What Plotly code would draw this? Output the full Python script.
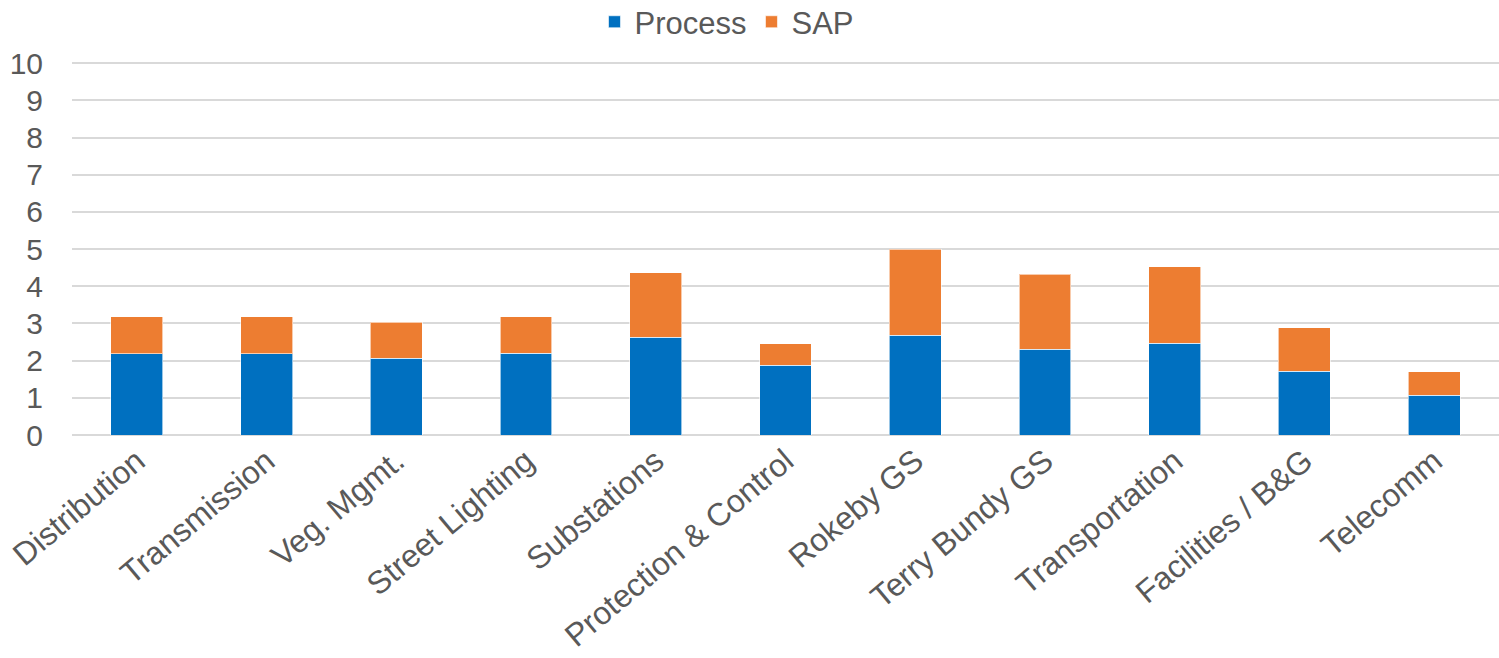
import plotly.graph_objects as go

categories = ["Distribution", "Transmission", "Veg. Mgmt.", "Street Lighting", "Substations",
              "Protection & Control", "Rokeby GS", "Terry Bundy GS", "Transportation",
              "Facilities / B&G", "Telecomm"]
process = [2.19, 2.19, 2.06, 2.2, 2.63, 1.87, 2.68, 2.30, 2.47, 1.72, 1.07]
sap = [0.99, 0.99, 0.97, 0.98, 1.74, 0.59, 2.31, 2.02, 2.05, 1.17, 0.63]
y_ticks = list(range(0, 11))

font_family = "Liberation Sans, Arial, sans-serif"
grey = "#595959"

fig = go.Figure()
fig.add_trace(go.Bar(x=categories, y=process, name="Process",
                     marker=dict(color="#0070C0", line=dict(color="rgba(255,255,255,0.6)", width=1))))
fig.add_trace(go.Bar(x=categories, y=sap, name="SAP",
                     marker=dict(color="#ED7D31", line=dict(color="rgba(255,255,255,0.6)", width=1))))

fig.update_layout(
    barmode="stack",
    bargap=0.6,
    width=1499, height=658,
    margin=dict(l=72, r=0, t=61, b=223, autoexpand=False),
    paper_bgcolor="white", plot_bgcolor="white",
    font=dict(family=font_family, size=30, color=grey),
    legend=dict(orientation="h", x=0.459, xanchor="center", y=1.104, yanchor="middle",
                font=dict(size=31, color=grey), traceorder="normal"),
    xaxis=dict(tickangle=-40, tickfont=dict(size=32, color=grey), showgrid=False,
               showline=False, ticks="", automargin=False),
    yaxis=dict(range=[0, 10.06], tickvals=y_ticks, tickfont=dict(size=30, color=grey),
               showgrid=True, gridcolor="#d9d9d9", gridwidth=1.5,
               zeroline=True, zerolinecolor="#d9d9d9", zerolinewidth=1.5,
               ticks="", ticklabelstandoff=28, automargin=False),
)

fig.write_html("out.html")
